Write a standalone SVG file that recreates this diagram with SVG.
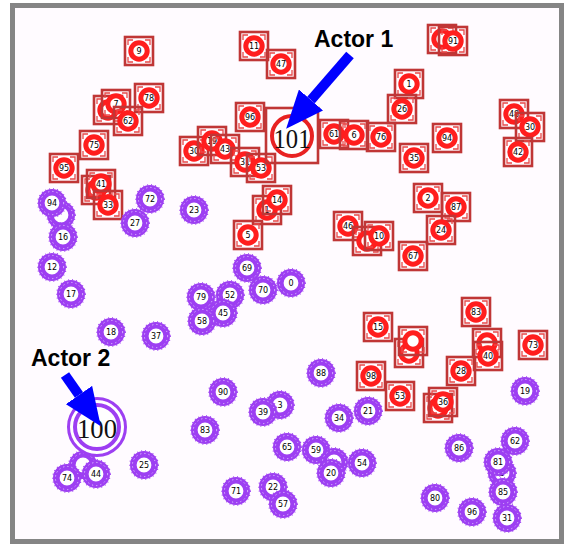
<svg xmlns="http://www.w3.org/2000/svg" width="569" height="545" viewBox="0 0 569 545">
  <style>
    .lbl { font-family: "DejaVu Sans", sans-serif; font-size: 8px; text-anchor: middle; fill: #000; }
    .big { font-family: "Liberation Serif", serif; font-size: 28px; text-anchor: middle; fill: #111; }
    .actor { font-family: "Liberation Sans", Arial, sans-serif; font-weight: bold; font-size: 23px; fill: #000; }
    .arrow { stroke: #0000ff; stroke-width: 10; fill: none; }
  </style>
  <defs>
    <marker id="head" markerUnits="userSpaceOnUse" markerWidth="38" markerHeight="32" refX="0" refY="16" orient="auto">
      <path d="M0,0 L38,16 L0,32 Z" fill="#0000ff"/>
    </marker>
    <!-- red square node -->
    <g id="red">
      <rect x="-14" y="-14" width="28" height="28" fill="none" stroke="#c03636" stroke-width="2.6"/>
      <path d="M-11,-6 V-11 H-6 M6,-11 H11 V-6 M11,6 V11 H6 M-6,11 H-11 V6" fill="none" stroke="#e84a4a" stroke-width="1.3"/>
      <circle r="8.2" fill="#fff" stroke="#ff1e1e" stroke-width="5"/>
    </g>
    <!-- purple round node -->
    <g id="pur">
      <circle r="14.3" fill="none" stroke="#9d3ff2" stroke-width="1.2" stroke-dasharray="1 3"/>
      <circle r="10.7" fill="#fff" stroke="#9d3ff2" stroke-width="6.6"/>
      <circle r="11.6" fill="none" stroke="#e6d2ff" stroke-width="0.9" stroke-dasharray="1.2 3"/>
    </g>
  </defs>

  <!-- frame -->
  <rect x="12.5" y="5.5" width="549" height="536" fill="#fffbff" stroke="#858585" stroke-width="5"/>

  <!-- red group -->
  <g id="n9" transform="translate(139,51)"><use href="#red"/><text class="lbl" y="3">9</text></g>
  <g id="n11" transform="translate(254,46)"><use href="#red"/><text class="lbl" y="3">11</text></g>
  <g id="n47" transform="translate(281,64)"><use href="#red"/><text class="lbl" y="3">47</text></g>
  <g id="n91a" transform="translate(442,39)"><use href="#red"/></g>
  <g id="n91" transform="translate(453,41)"><use href="#red"/><text class="lbl" y="3">91</text></g>
  <g id="n1" transform="translate(409,84)"><use href="#red"/><text class="lbl" y="3">1</text></g>
  <g id="n26" transform="translate(402,109)"><use href="#red"/><text class="lbl" y="3">26</text></g>
  <g id="n96" transform="translate(250,117)"><use href="#red"/><text class="lbl" y="3">96</text></g>
  <g id="n48" transform="translate(514,114)"><use href="#red"/><text class="lbl" y="3">48</text></g>
  <g id="n30r" transform="translate(530,127)"><use href="#red"/><text class="lbl" y="3">30</text></g>
  <g id="n42" transform="translate(518,152)"><use href="#red"/><text class="lbl" y="3">42</text></g>
  <g id="n78" transform="translate(149,98)"><use href="#red"/><text class="lbl" y="3">78</text></g>
  <g id="n97a" transform="translate(108,110)"><use href="#red"/></g>
  <g id="n97" transform="translate(116,104)"><use href="#red"/><text class="lbl" y="3">7</text></g>
  <g id="n62r" transform="translate(128,121)"><use href="#red"/><text class="lbl" y="3">62</text></g>
  <g id="n75" transform="translate(94,145)"><use href="#red"/><text class="lbl" y="3">75</text></g>
  <g id="n95" transform="translate(64,168)"><use href="#red"/><text class="lbl" y="3">95</text></g>
  <g id="n61" transform="translate(334,134)"><use href="#red"/><text class="lbl" y="3">61</text></g>
  <g id="n6" transform="translate(354,135)"><use href="#red"/><text class="lbl" y="3">6</text></g>
  <g id="n76" transform="translate(381,137)"><use href="#red"/><text class="lbl" y="3">76</text></g>
  <g id="n94r" transform="translate(447,138)"><use href="#red"/><text class="lbl" y="3">94</text></g>
  <g id="n35" transform="translate(414,158)"><use href="#red"/><text class="lbl" y="3">35</text></g>
  <g id="n30" transform="translate(194,151)"><use href="#red"/><text class="lbl" y="3">30</text></g>
  <g id="n19r" transform="translate(212,141)"><use href="#red"/><text class="lbl" y="3">19</text></g>
  <g id="n43" transform="translate(225,149)"><use href="#red"/><text class="lbl" y="3">43</text></g>
  <g id="n31r" transform="translate(245,162)"><use href="#red"/><text class="lbl" y="3">31</text></g>
  <g id="n53a" transform="translate(261,168)"><use href="#red"/><text class="lbl" y="3">53</text></g>
  <g id="n41a" transform="translate(96,190)"><use href="#red"/></g>
  <g id="n41" transform="translate(101,184)"><use href="#red"/><text class="lbl" y="3">41</text></g>
  <g id="n33" transform="translate(108,205)"><use href="#red"/><text class="lbl" y="3">33</text></g>
  <g id="n1b" transform="translate(267,210)"><use href="#red"/><text class="lbl" y="3">1</text></g>
  <g id="n14" transform="translate(277,200)"><use href="#red"/><text class="lbl" y="3">14</text></g>
  <g id="n5r" transform="translate(248,235)"><use href="#red"/><text class="lbl" y="3">5</text></g>
  <g id="n46" transform="translate(348,226)"><use href="#red"/><text class="lbl" y="3">46</text></g>
  <g id="n10a" transform="translate(367,241)"><use href="#red"/></g>
  <g id="n10" transform="translate(379,236)"><use href="#red"/><text class="lbl" y="3">10</text></g>
  <g id="n2" transform="translate(428,198)"><use href="#red"/><text class="lbl" y="3">2</text></g>
  <g id="n87" transform="translate(456,207)"><use href="#red"/><text class="lbl" y="3">87</text></g>
  <g id="n24" transform="translate(441,230)"><use href="#red"/><text class="lbl" y="3">24</text></g>
  <g id="n67" transform="translate(413,256)"><use href="#red"/><text class="lbl" y="3">67</text></g>
  <g id="n83r" transform="translate(476,312)"><use href="#red"/><text class="lbl" y="3">83</text></g>
  <g id="n15" transform="translate(378,327)"><use href="#red"/><text class="lbl" y="3">15</text></g>
  <g id="n73" transform="translate(533,345)"><use href="#red"/><text class="lbl" y="3">73</text></g>
  <g id="n7a" transform="translate(409,353)"><use href="#red"/></g>
  <g id="n7b" transform="translate(413,341)"><use href="#red"/></g>
  <g id="n40a" transform="translate(487,343)"><use href="#red"/></g>
  <g id="n40" transform="translate(488,356)"><use href="#red"/><text class="lbl" y="3">40</text></g>
  <g id="n28" transform="translate(461,371)"><use href="#red"/><text class="lbl" y="3">28</text></g>
  <g id="n98" transform="translate(371,376)"><use href="#red"/><text class="lbl" y="3">98</text></g>
  <g id="n53" transform="translate(400,396)"><use href="#red"/><text class="lbl" y="3">53</text></g>
  <g id="n36a" transform="translate(438,408)"><use href="#red"/></g>
  <g id="n36" transform="translate(443,402)"><use href="#red"/><text class="lbl" y="3">36</text></g>

  <!-- actor 1 -->
  <g id="n101">
    <rect x="266" y="108" width="52" height="55" fill="none" stroke="#c03636" stroke-width="2.6"/>
    <circle cx="292" cy="136" r="20" fill="#fff" stroke="#e82222" stroke-width="4"/>
    <text class="big" x="292" y="148" textLength="37" lengthAdjust="spacingAndGlyphs">101</text>
  </g>

  <!-- purple group -->
  <g id="n94b" transform="translate(61,215)"><use href="#pur"/></g>
  <g id="n94" transform="translate(52,203)"><use href="#pur"/><text class="lbl" y="3">94</text></g>
  <g id="n16" transform="translate(63,237)"><use href="#pur"/><text class="lbl" y="3">16</text></g>
  <g id="n12" transform="translate(52,267)"><use href="#pur"/><text class="lbl" y="3">12</text></g>
  <g id="n17" transform="translate(71,294)"><use href="#pur"/><text class="lbl" y="3">17</text></g>
  <g id="n18" transform="translate(111,332)"><use href="#pur"/><text class="lbl" y="3">18</text></g>
  <g id="n37" transform="translate(156,336)"><use href="#pur"/><text class="lbl" y="3">37</text></g>
  <g id="n72" transform="translate(150,199)"><use href="#pur"/><text class="lbl" y="3">72</text></g>
  <g id="n27" transform="translate(135,223)"><use href="#pur"/><text class="lbl" y="3">27</text></g>
  <g id="n23" transform="translate(194,210)"><use href="#pur"/><text class="lbl" y="3">23</text></g>
  <g id="n69" transform="translate(247,268)"><use href="#pur"/><text class="lbl" y="3">69</text></g>
  <g id="n70" transform="translate(263,290)"><use href="#pur"/><text class="lbl" y="3">70</text></g>
  <g id="n0" transform="translate(291,283)"><use href="#pur"/><text class="lbl" y="3">0</text></g>
  <g id="n79" transform="translate(201,297)"><use href="#pur"/><text class="lbl" y="3">79</text></g>
  <g id="n52" transform="translate(230,295)"><use href="#pur"/><text class="lbl" y="3">52</text></g>
  <g id="n45" transform="translate(223,313)"><use href="#pur"/><text class="lbl" y="3">45</text></g>
  <g id="n58" transform="translate(202,321)"><use href="#pur"/><text class="lbl" y="3">58</text></g>
  <g id="n44a" transform="translate(83,465)"><use href="#pur"/></g>
  <g id="n74" transform="translate(67,478)"><use href="#pur"/><text class="lbl" y="3">74</text></g>
  <g id="n44" transform="translate(96,474)"><use href="#pur"/><text class="lbl" y="3">44</text></g>
  <g id="n25" transform="translate(144,465)"><use href="#pur"/><text class="lbl" y="3">25</text></g>
  <g id="n90" transform="translate(223,392)"><use href="#pur"/><text class="lbl" y="3">90</text></g>
  <g id="n83" transform="translate(205,430)"><use href="#pur"/><text class="lbl" y="3">83</text></g>
  <g id="n3" transform="translate(280,405)"><use href="#pur"/><text class="lbl" y="3">3</text></g>
  <g id="n39" transform="translate(263,412)"><use href="#pur"/><text class="lbl" y="3">39</text></g>
  <g id="n88" transform="translate(321,373)"><use href="#pur"/><text class="lbl" y="3">88</text></g>
  <g id="n34" transform="translate(339,418)"><use href="#pur"/><text class="lbl" y="3">34</text></g>
  <g id="n21" transform="translate(368,411)"><use href="#pur"/><text class="lbl" y="3">21</text></g>
  <g id="n65" transform="translate(287,447)"><use href="#pur"/><text class="lbl" y="3">65</text></g>
  <g id="n59" transform="translate(316,450)"><use href="#pur"/><text class="lbl" y="3">59</text></g>
  <g id="n20a" transform="translate(334,462)"><use href="#pur"/></g>
  <g id="n20" transform="translate(331,473)"><use href="#pur"/><text class="lbl" y="3">20</text></g>
  <g id="n54" transform="translate(362,463)"><use href="#pur"/><text class="lbl" y="3">54</text></g>
  <g id="n71" transform="translate(236,491)"><use href="#pur"/><text class="lbl" y="3">71</text></g>
  <g id="n22" transform="translate(273,487)"><use href="#pur"/><text class="lbl" y="3">22</text></g>
  <g id="n57" transform="translate(283,504)"><use href="#pur"/><text class="lbl" y="3">57</text></g>
  <g id="n19" transform="translate(525,391)"><use href="#pur"/><text class="lbl" y="3">19</text></g>
  <g id="n62" transform="translate(515,441)"><use href="#pur"/><text class="lbl" y="3">62</text></g>
  <g id="n86" transform="translate(459,448)"><use href="#pur"/><text class="lbl" y="3">86</text></g>
  <g id="n5" transform="translate(502,473)"><use href="#pur"/><text class="lbl" y="3">5</text></g>
  <g id="n81" transform="translate(498,462)"><use href="#pur"/><text class="lbl" y="3">81</text></g>
  <g id="n85" transform="translate(503,492)"><use href="#pur"/><text class="lbl" y="3">85</text></g>
  <g id="n31" transform="translate(507,518)"><use href="#pur"/><text class="lbl" y="3">31</text></g>
  <g id="n80" transform="translate(435,498)"><use href="#pur"/><text class="lbl" y="3">80</text></g>
  <g id="n96p" transform="translate(472,512)"><use href="#pur"/><text class="lbl" y="3">96</text></g>

  <!-- actor 2 -->
  <g id="n100">
    <circle cx="97" cy="427" r="28.5" fill="#fff" stroke="#9d3ff2" stroke-width="3"/>
    <circle cx="97" cy="427" r="22" fill="#fff" stroke="#9d3ff2" stroke-width="4"/>
    <text class="big" x="97" y="438" textLength="40" lengthAdjust="spacingAndGlyphs">100</text>
  </g>

  <!-- callout arrows -->
  <g id="connectors">
    <line class="arrow" x1="350" y1="55" x2="311" y2="100" marker-end="url(#head)"/>
    <line class="arrow" x1="65" y1="375" x2="79" y2="395" marker-end="url(#head)"/>
  </g>

  <!-- callout labels -->
  <text class="actor" x="314" y="47">Actor 1</text>
  <text class="actor" x="31" y="366">Actor 2</text>
</svg>
